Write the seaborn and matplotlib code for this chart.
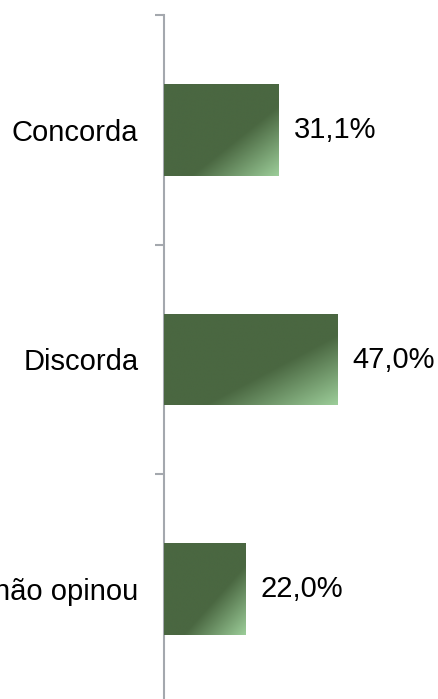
import numpy as np
import pandas as pd
import seaborn as sns
import matplotlib.pyplot as plt
from matplotlib.colors import LinearSegmentedColormap

categorias = ['Concorda', 'Discorda', 'Não sabe/não opinou']
percentuais = [31.1, 47.0, 22.0]

data = pd.DataFrame({'categoria': categorias, 'pct': percentuais})

sns.set_theme(style="white")
plt.rcParams['font.family'] = ['Liberation Sans', 'DejaVu Sans']

fig = plt.figure(figsize=(4.39, 6.99), dpi=100)
ax = fig.add_axes([164 / 439, 1 - 704 / 699, 221 / 439, 689 / 699])

sns.barplot(data=data, y='categoria', x='pct', orient='h',
            color='#4a6741', width=0.4, ax=ax)

# degradê diagonal como no original
verde = LinearSegmentedColormap.from_list(
    'verde', [(0, '#4a6741'), (0.62, '#4a6741'), (1, '#9ccd99')])
n = 200
u, v = np.meshgrid(np.linspace(0, 1, n), np.linspace(0, 1, n))
grad = (u + v) / 2
for p in ax.patches:
    x0, y0, w, h = p.get_x(), p.get_y(), p.get_width(), p.get_height()
    im = ax.imshow(grad, cmap=verde, vmin=0, vmax=1, aspect='auto',
                   extent=(x0, x0 + w, y0 + h, y0), origin='upper',
                   interpolation='bilinear', zorder=3)
    im.set_clip_path(p)
    p.set_edgecolor('none')

for i, val in enumerate(percentuais):
    ax.annotate(f'{val:.1f}%'.replace('.', ','), xy=(val, i),
                xytext=(10.8, 0), textcoords='offset points',
                va='center', ha='left', fontsize=21, color='black')

ax.set_xlim(0, 60)
ax.set_ylim(len(categorias) - 0.5, -0.5)
ax.set_xlabel('')
ax.set_ylabel('')
ax.set_xticks([])

ax.set_yticks(np.arange(len(categorias) + 1) - 0.5)
ax.set_yticklabels([])
ax.set_yticks(np.arange(len(categorias)), minor=True)
ax.set_yticklabels(categorias, minor=True, fontsize=21, color='black')
ax.tick_params(axis='y', which='major', length=6.5, width=1.5,
               color='#a4a8ae', left=True)
ax.tick_params(axis='y', which='minor', length=0, pad=18.5, left=True,
               labelcolor='black')

for s in ['top', 'right', 'bottom']:
    ax.spines[s].set_visible(False)
ax.spines['left'].set_color('#a4a8ae')
ax.spines['left'].set_linewidth(1.5)

plt.savefig('out.png', dpi=100)
plt.close()
